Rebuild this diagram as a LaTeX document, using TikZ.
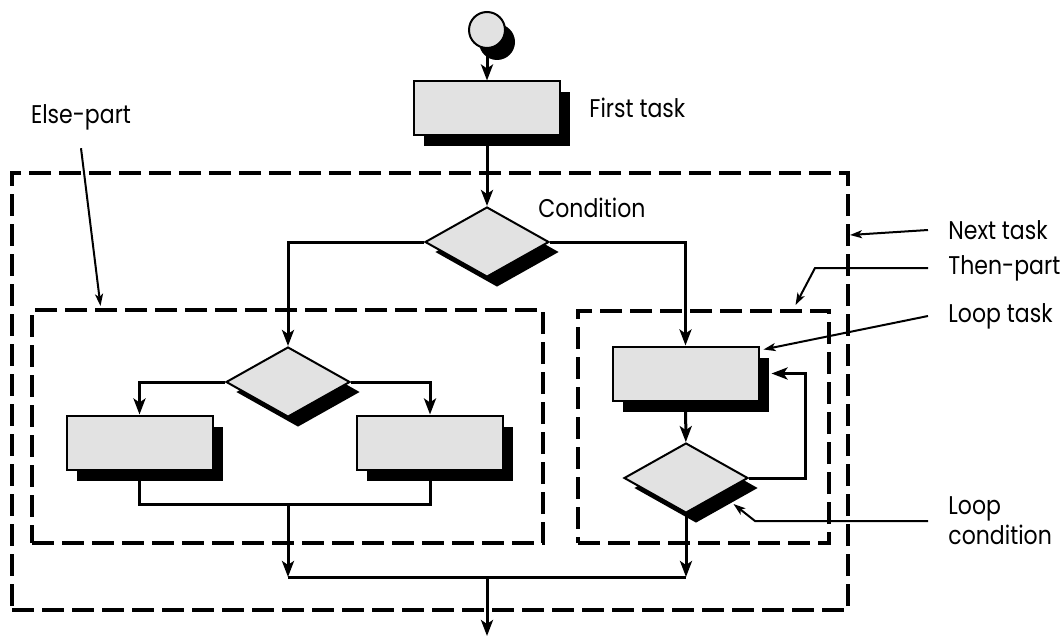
\documentclass[tikz,border=0pt]{standalone}
\usepackage{fontspec}
\setmainfont[FakeStretch=0.86]{Poppins}
\usetikzlibrary{arrows.meta,shapes.geometric,shadows,positioning}
\definecolor{boxgray}{RGB}{226,226,226}

\begin{document}
\begin{tikzpicture}[x=0.5pt, y=-0.5pt,
    task/.style={draw=black, line width=1pt, fill=boxgray, inner sep=0pt,
        minimum width=73pt, minimum height=27pt,
        drop shadow={shadow xshift=5pt, shadow yshift=-5.5pt, fill=black, opacity=1}},
    test/.style={diamond, draw=black, line width=1pt, fill=boxgray, inner sep=0pt,
        aspect=1.8, minimum width=62pt, minimum height=35pt,
        drop shadow={shadow xshift=5pt, shadow yshift=-5pt, fill=black, opacity=1}},
    startnode/.style={circle, draw=black, line width=1pt, fill=boxgray, minimum size=18pt,
        drop shadow={shadow xshift=5pt, shadow yshift=-6pt, fill=black, opacity=1}},
    region/.style={draw=black, line width=2pt, dash pattern=on 11pt off 4pt, inner sep=0pt},
    flow/.style={line width=1.5pt, -{Stealth[length=8pt, width=6pt, inset=2pt]}},
    link/.style={line width=1.5pt},
    note/.style={line width=1pt, -{Stealth[length=6pt, width=4pt, inset=1.5pt]}},
    lbl/.style={font=\fontsize{12.8}{15}\selectfont, inner xsep=10pt, inner ysep=1pt, anchor=west, align=left}]

    \useasboundingbox (0,0) rectangle (1060,642);

    % --- dashed regions ---
    \node[region, minimum width=418pt, minimum height=218.5pt] (nexttask) at (430,391.5) {};
    \node[region, minimum width=255.5pt, minimum height=116.5pt] (elsepart) at (287.5,426.5) {};
    \node[region, minimum width=125.5pt, minimum height=116pt] (thenpart) at (703.5,427) {};

    % --- flow nodes ---
    \node[startnode] (start) at (487,30) {};
    \node[task] (first) at (487,108.5) {};
    \node[test] (cond) at (487,242) {};
    \node[test] (choice) at (288,382) {};
    \node[task] (leftjob) at (139.5,442.5) {};
    \node[task] (rightjob) at (430,442.5) {};
    \node[task] (looptask) at (685.5,373.5) {};
    \node[test] (loopcond) at (686,478) {};

    % junctions
    \coordinate (elsejoin) at (288,504);
    \coordinate (merge) at (487,577);
    \coordinate (exit) at (487,636);

    % Main line
    \draw[flow] (start) -- (first);
    \draw[flow] (first) -- (cond);
    \draw[flow] (cond.west) -| (choice.north);
    \draw[flow] (cond.east) -| (looptask.north);

    % Else-part
    \draw[flow] (choice.west) -| (leftjob.north);
    \draw[flow] (choice.east) -| (rightjob.north);
    \draw[link] (leftjob.south) |- (elsejoin) -| (rightjob.south);

    % Then-part loop
    \draw[flow] (looptask) -- (loopcond);
    \draw[flow] (loopcond.east) -- ++(56,0) |- ([xshift=6pt]looptask.east);

    % Merge and exit
    \draw[flow] (elsejoin) -- (elsejoin |- merge);
    \draw[flow] (loopcond.south) -- (loopcond.south |- merge);
    \draw[link] (elsejoin |- merge) -- (loopcond.south |- merge);
    \draw[flow] (merge) -- (exit);

    % --- labels ---
    \node[lbl, anchor=west, inner xsep=0pt] (firsttxt) at (589,108) {First task};
    \node[lbl, anchor=west, inner xsep=0pt] (condtxt) at (538,208) {Condition};
    \node[lbl, anchor=center, inner xsep=0pt] (elsetxt) at (81,117) {Else-part};
    \node[lbl] (nexttxt) at (928,230) {Next task};
    \node[lbl] (thentxt) at (928,268) {Then-part};
    \node[lbl] (looptxt) at (928,316) {Loop task};
    \node[lbl] (lcondtxt) at (928,521) {Loop\\condition};

    % annotation pointers
    \draw[note] ([yshift=-8pt]elsetxt.south) -- ([xshift=-93.5pt,yshift=1pt]elsepart.north);
    \draw[note] (nexttxt.west) -- ([yshift=-32pt]nexttask.north east);
    \draw[note] (thentxt.west) -- ++(-113,0) -- ([xshift=46pt,yshift=2pt]thenpart.north);
    \draw[note] (looptxt.west) -- ([xshift=2pt,yshift=-2pt]looptask.north east);
    \draw[note] (lcondtxt.west) -- ++(-173,0) -- ([xshift=8pt,yshift=-4pt]loopcond.south east);
\end{tikzpicture}
\end{document}
